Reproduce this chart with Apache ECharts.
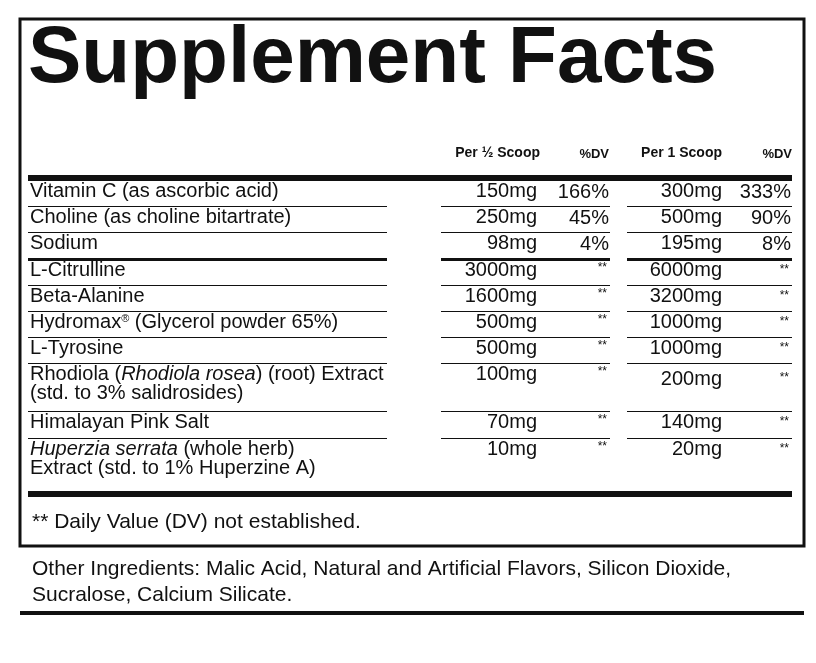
<!DOCTYPE html>
<html><head><meta charset="utf-8">
<script src="https://cdn.jsdelivr.net/npm/echarts@6/dist/echarts.min.js"></script>
<style>html,body{margin:0;background:#fff}#c{width:816px;height:663px}</style>
</head><body><div id="c"></div>
<script>
// label data
let names = [
  '{n|Vitamin C (as ascorbic acid)}',
  '{n|Choline (as choline bitartrate)}',
  '{n|Sodium}',
  '{n|L-Citrulline}',
  '{n|Beta-Alanine}',
  '{n|Hydromax}{s|®}{n| (Glycerol powder 65%)}',
  '{n|L-Tyrosine}',
  '{n|Rhodiola (}{i|Rhodiola rosea}{n|) (root) Extract}\n{n|(std. to 3% salidrosides)}',
  '{n|Himalayan Pink Salt}',
  '{i|Huperzia serrata}{n| (whole herb)}\n{n|Extract (std. to 1% Huperzine A)}'
];
let halfScoop = ['150mg', '250mg', '98mg', '3000mg', '1600mg', '500mg', '500mg', '100mg', '70mg', '10mg'];
let halfDV = ['166%', '45%', '4%', '**', '**', '**', '**', '**', '**', '**'];
let oneScoop = ['300mg', '500mg', '195mg', '6000mg', '3200mg', '1000mg', '1000mg', '200mg', '140mg', '20mg'];
let oneDV = ['333%', '90%', '8%', '**', '**', '**', '**', '**', '**', '**'];
let headers = ['Per ½ Scoop', '%DV', 'Per 1 Scoop', '%DV'];
let footnote = '** Daily Value (DV) not established.';
let otherIngredients = 'Other Ingredients: Malic Acid, Natural and Artificial Flavors, Silicon Dioxide,\nSucralose, Calcium Silicate.';

let font = '"Liberation Sans", Arial, sans-serif';
let rowTop = [180, 206, 232, 259, 285, 311, 337, 363, 411, 438];
let rowBottom = [206, 232, 259, 285, 311, 337, 363, 411, 438, 494];
let g = [];

function rect(x, y, w, h) {
  g.push({type: 'rect', shape: {x: x, y: y, width: w, height: h}, style: {fill: '#111'}});
}
function txt(x, y, s, opt) {
  g.push({type: 'text', x: x, y: y, style: Object.assign({
    text: s, fill: '#111', font: '20px ' + font, textAlign: 'left', textVerticalAlign: 'middle'
  }, opt || {})});
}

// frame
g.push({type: 'rect', shape: {x: 20, y: 19, width: 784, height: 527},
  style: {fill: 'none', stroke: '#111', lineWidth: 3}});
txt(28, 60, 'Supplement Facts', {font: 'bold 80px ' + font});

// header
txt(540, 153, headers[0], {font: 'bold 14px ' + font, textAlign: 'right'});
txt(609, 154, headers[1], {font: 'bold 13px ' + font, textAlign: 'right'});
txt(722, 153, headers[2], {font: 'bold 14px ' + font, textAlign: 'right'});
txt(792, 154, headers[3], {font: 'bold 13px ' + font, textAlign: 'right'});
rect(28, 175, 764, 6);

let rich = {
  n: {font: '20px ' + font, fill: '#111', lineHeight: 19},
  i: {font: 'italic 20px ' + font, fill: '#111', lineHeight: 19},
  s: {font: '11px ' + font, fill: '#111', verticalAlign: 'top', lineHeight: 19}
};

names.forEach((name, k) => {
  let y = rowTop[k] + 11;
  g.push({type: 'text', x: 30, y: y - 9, style: {text: name, rich: rich, textVerticalAlign: 'top'}});
  txt(537, y, halfScoop[k], {textAlign: 'right'});
  txt(722, y + (k === 7 ? 5 : 0), oneScoop[k], {textAlign: 'right'});
  if (halfDV[k] === '**') {
    txt(607, y - 2, '**', {textAlign: 'right', font: '12px ' + font});
    txt(789, y + (k === 7 ? 4 : 0), '**', {textAlign: 'right', font: '12px ' + font});
  } else {
    txt(609, y + 1, halfDV[k], {textAlign: 'right'});
    txt(791, y + 1, oneDV[k], {textAlign: 'right'});
  }
  if (k < names.length - 1) {
    let b = rowBottom[k];
    let h = k === 2 ? 3 : 1;
    rect(28, b - (h > 1 ? 1 : 0), 359, h);
    rect(441, b - (h > 1 ? 1 : 0), 169, h);
    rect(627, b - (h > 1 ? 1 : 0), 165, h);
  }
});
rect(28, 491, 764, 6);

txt(32, 522, footnote, {font: '21px ' + font});
txt(32, 582, otherIngredients, {font: '21px ' + font, lineHeight: 26});
rect(20, 611, 784, 4);

let chart = echarts.init(document.getElementById('c'));
chart.setOption({animation: false, graphic: {elements: g}});
</script></body></html>
